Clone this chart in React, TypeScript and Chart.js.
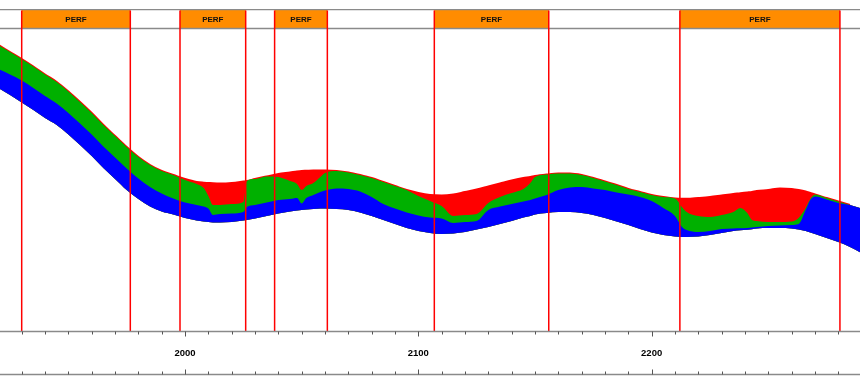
import React, { useEffect, useRef } from "react";
import { Chart, registerables } from "chart.js";

Chart.register(...registerables);

// Measured depth (MD) stations along the well
const DEPTH = [
  1920, 1925, 1930, 1935, 1940, 1945, 1950, 1955, 1960, 1965,
  1970, 1975, 1980, 1985, 1990, 1995, 2000, 2005, 2008, 2010,
  2012, 2015, 2020, 2025, 2026.5, 2030, 2035, 2040, 2045, 2048,
  2050, 2052, 2055, 2058, 2060, 2065, 2070, 2075, 2080, 2085,
  2090, 2095, 2100, 2105, 2110, 2115, 2120, 2125, 2130, 2135,
  2140, 2145, 2148, 2150, 2155, 2160, 2165, 2170, 2175, 2180,
  2185, 2190, 2195, 2200, 2205, 2210, 2213, 2215, 2220, 2225,
  2230, 2235, 2238, 2241, 2243, 2245, 2250, 2255, 2260, 2263,
  2266, 2268, 2270, 2275, 2280, 2285, 2290,
];

// Relative TVD of the layer boundaries (larger = deeper)
const TOP_EDGE = [
  45, 52, 59, 66.5, 74.5, 82, 91.5, 102, 113, 125,
  136, 147, 157, 165, 171, 175, 179, 182, 182.7, 183,
  183.3, 183.5, 183, 181.5, 181, 179, 176.5, 174, 172.5, 171.5,
  171, 170.8, 170.5, 170.5, 170.5, 171, 172.5, 175, 178, 182,
  186, 190, 193, 195, 195.5, 194.5, 192, 189.5, 186.5, 183.5,
  180.5, 178, 177, 176, 174.5, 173.5, 173.5, 175, 178, 181.5,
  185, 189, 192, 195, 197, 198.5, 198.8, 198.8, 198, 197,
  195.5, 194, 193.3, 192.5, 192, 191, 190, 188.5, 189, 190,
  191.5, 193, 194.5, 198, 201.5, 205, 208.5,
];

const GREEN_TOP = [
  45, 52, 59, 66.5, 74.5, 82, 91.5, 102, 113, 125,
  136, 147, 157, 165, 171, 175, 180, 184, 188, 196,
  205, 205, 204, 202, 181, 179, 176.5, 177, 181, 184,
  190, 186, 183, 177, 173, 171, 172.5, 175, 178, 182,
  186, 190, 196, 201, 206, 216, 215, 214, 203, 197,
  193, 189, 183, 177, 174.5, 173.5, 173.5, 175, 178, 181.5,
  185, 189, 192, 195, 197, 198.5, 207, 212, 216, 217,
  215, 212, 208, 213, 220, 221, 222, 222, 221.5, 218,
  208, 199, 194.5, 198, 201.5, 205, 208.5,
];

const BLUE_TOP = [
  69, 74.5, 80.5, 88, 96, 103.5, 113, 123.5, 134.5, 146.5,
  157.5, 168.5, 178.5, 187, 193.5, 198.5, 202.5, 205, 206.5, 208.5,
  215, 214, 213.5, 212, 207, 205, 202.5, 200, 199, 198,
  203.5, 198, 195, 192, 190.5, 188.5, 189, 191.5, 197, 204,
  208.5, 212.5, 215.5, 217.5, 218.5, 223, 222, 221, 210, 206.5,
  204, 201.5, 200, 198.5, 195, 190, 187.5, 187, 188.5, 190,
  192.5, 194.5, 197, 201, 208, 216, 227, 230, 232, 231,
  229, 228.5, 228.3, 228, 227.5, 227, 226, 225.5, 225, 224,
  210, 200, 196.5, 199.5, 203, 205, 208.5,
];

const BASE_EDGE = [
  88, 95, 102.4, 110, 118, 125, 134.5, 145, 156, 168,
  179, 190, 199, 206.5, 211.5, 214.5, 218, 220.5, 221.5, 222,
  222.5, 222.5, 222, 220.5, 220, 218.5, 216, 213.5, 211.5, 210.5,
  210, 209.5, 209, 208.5, 208.5, 209, 210, 212.5, 216, 220,
  224, 228, 231, 233, 234, 233.5, 232, 229.5, 227, 224,
  221, 217.5, 216, 214.5, 213, 212, 212, 213, 215, 218,
  221.5, 225, 229, 232.5, 235, 236.5, 237, 237, 236.5, 235,
  233, 231, 230.3, 229.7, 229.2, 228.5, 228, 228, 228.5, 229.5,
  231, 232.5, 234, 238, 242, 247, 253,
];

// Perforated intervals (MD)
const PERF_TOP = [1930.0, 1997.85, 2038.4, 2106.85, 2212.1];
const PERF_BASE = [1976.55, 2026.0, 2061.0, 2155.9, 2280.7];
const PERF_LABEL = "PERF";

// Axis definitions
const MD_MIN = 1920.7;
const MD_MAX = 2289.3;
const TVD_MIN = 28;
const TVD_MAX = 331;
const MAJOR_TICKS = [2000, 2100, 2200];
const MINOR_STEP = 10;

const RED = "#ff0000";
const GREEN = "#00b000";
const BLUE = "#0000ff";
const ORANGE = "#ff8c00";
const GRAY = "#8a8a8a";

const overlayPlugin = {
  id: "wellOverlay",
  afterDraw(chart: any) {
    const ctx = chart.ctx as CanvasRenderingContext2D;
    const xs = chart.scales.x;
    const area = chart.chartArea;
    const W = chart.width;
    const bandTop = 10;
    const bandBot = area.top;
    ctx.save();

    // PERF boxes
    for (let i = 0; i < PERF_TOP.length; i++) {
      const x0 = xs.getPixelForValue(PERF_TOP[i]);
      const x1 = xs.getPixelForValue(PERF_BASE[i]);
      ctx.fillStyle = ORANGE;
      ctx.fillRect(x0, bandTop, x1 - x0, bandBot - bandTop);
      ctx.fillStyle = "#111";
      ctx.font = "bold 8px 'Liberation Sans', Arial, sans-serif";
      ctx.textAlign = "center";
      ctx.textBaseline = "middle";
      ctx.fillText(PERF_LABEL, (x0 + x1) / 2, (bandTop + bandBot) / 2 + 0.5);
    }

    // band border lines
    ctx.strokeStyle = GRAY;
    ctx.lineWidth = 1.3;
    ctx.beginPath();
    ctx.moveTo(0, bandTop - 0.3);
    ctx.lineTo(W, bandTop - 0.3);
    ctx.moveTo(0, bandBot + 0.5);
    ctx.lineTo(W, bandBot + 0.5);
    ctx.stroke();

    // red perf boundary lines
    ctx.strokeStyle = RED;
    ctx.lineWidth = 1.5;
    ctx.beginPath();
    for (let i = 0; i < PERF_TOP.length; i++) {
      for (const v of [PERF_TOP[i], PERF_BASE[i]]) {
        const x = xs.getPixelForValue(v);
        ctx.moveTo(x, bandTop + 0.5);
        ctx.lineTo(x, area.bottom);
      }
    }
    ctx.stroke();

    // bottom axes
    const axY = area.bottom + 0.5;
    const ax2Y = 374.5;
    ctx.strokeStyle = GRAY;
    ctx.lineWidth = 1.3;
    ctx.beginPath();
    ctx.moveTo(0, axY);
    ctx.lineTo(W, axY);
    ctx.moveTo(0, ax2Y);
    ctx.lineTo(W, ax2Y);
    ctx.stroke();

    ctx.lineWidth = 1;
    ctx.strokeStyle = "#555";
    ctx.beginPath();
    const start = Math.ceil(MD_MIN / MINOR_STEP) * MINOR_STEP;
    for (let v = start; v <= MD_MAX; v += MINOR_STEP) {
      const x = Math.round(xs.getPixelForValue(v)) + 0.5;
      const major = MAJOR_TICKS.includes(v);
      ctx.moveTo(x, axY);
      ctx.lineTo(x, axY + (major ? 5 : 3));
      ctx.moveTo(x, ax2Y);
      ctx.lineTo(x, ax2Y - (major ? 5 : 3));
    }
    ctx.stroke();

    ctx.fillStyle = "#000";
    ctx.font = "bold 9.5px 'Liberation Sans', Arial, sans-serif";
    ctx.textAlign = "center";
    ctx.textBaseline = "middle";
    for (const v of MAJOR_TICKS) {
      ctx.fillText(String(v), xs.getPixelForValue(v), 353);
    }
    ctx.restore();
  },
};

export default function App() {
  const ref = useRef<HTMLCanvasElement | null>(null);

  useEffect(() => {
    if (!ref.current) return;
    const pts = (arr: number[]) => DEPTH.map((d, i) => ({ x: d, y: arr[i] }));
    const chart = new Chart(ref.current, {
      type: "line",
      data: {
        datasets: [
          {
            label: "base",
            data: pts(BASE_EDGE),
            borderWidth: 0,
            pointRadius: 0,
            fill: false,
            cubicInterpolationMode: "monotone",
          },
          {
            label: "water",
            data: pts(BLUE_TOP),
            borderWidth: 0,
            pointRadius: 0,
            fill: 0,
            backgroundColor: BLUE,
            cubicInterpolationMode: "monotone",
          },
          {
            label: "oil",
            data: pts(GREEN_TOP),
            borderWidth: 0,
            pointRadius: 0,
            fill: 0,
            backgroundColor: GREEN,
            cubicInterpolationMode: "monotone",
          },
          {
            label: "gas",
            data: pts(TOP_EDGE),
            borderWidth: 2,
            borderColor: RED,
            pointRadius: 0,
            fill: 0,
            backgroundColor: RED,
            cubicInterpolationMode: "monotone",
            segment: {
              borderColor: (c: any) => (c.p0.parsed.x >= 2281 ? "rgba(0,0,0,0)" : RED),
            },
          },
        ],
      } as any,
      options: {
        responsive: false,
        maintainAspectRatio: false,
        animation: false,
        devicePixelRatio: 1,
        layout: { padding: { top: 28, bottom: 53, left: 0, right: 0 } },
        scales: {
          x: { type: "linear", min: MD_MIN, max: MD_MAX, display: false },
          y: { type: "linear", min: TVD_MIN, max: TVD_MAX, reverse: true, display: false },
        },
        plugins: {
          legend: { display: false },
          tooltip: { enabled: false },
        },
        events: [],
      } as any,
      plugins: [overlayPlugin],
    });
    return () => chart.destroy();
  }, []);

  return (
    <div style={{ position: "fixed", left: 0, top: 0, width: 860, height: 384, background: "#fff" }}>
      <canvas ref={ref} width={860} height={384} style={{ display: "block" }} />
    </div>
  );
}
